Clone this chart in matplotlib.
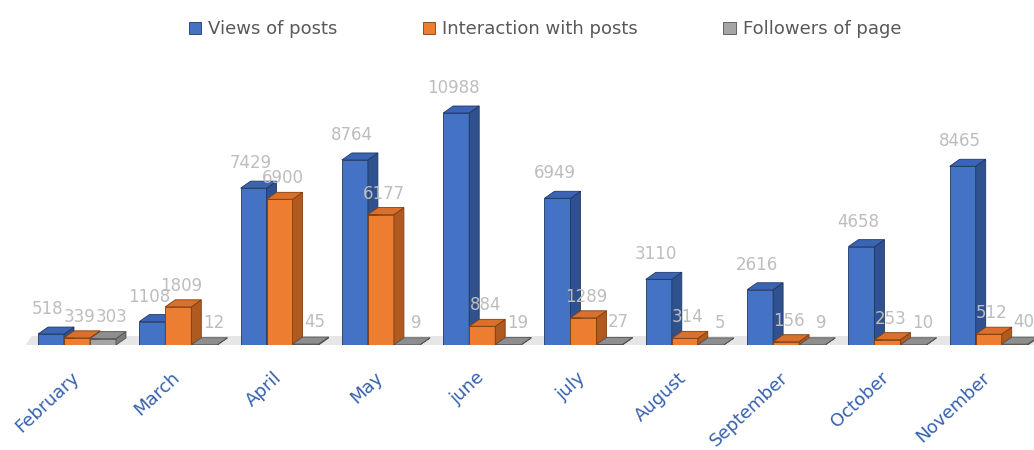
import matplotlib
matplotlib.use('Agg')
import matplotlib.pyplot as plt
from matplotlib.patches import Polygon, Patch
import numpy as np

# chart data
months = ['February', 'March', 'April', 'May', 'june', 'july',
          'August', 'September', 'October', 'November']
views = [518, 1108, 7429, 8764, 10988, 6949, 3110, 2616, 4658, 8465]
interactions = [339, 1809, 6900, 6177, 884, 1289, 314, 156, 253, 512]
followers = [303, 12, 45, 9, 19, 27, 5, 9, 10, 40]

series_names = ['Views of posts', 'Interaction with posts', 'Followers of page']
front_cols = ['#4472c4', '#ed7d31', '#a5a5a5']
side_cols = ['#2f528f', '#ae5a21', '#7b7b7b']
top_cols = ['#3b65b4', '#d9702b', '#8e8e8e']
edge_cols = ['#203864', '#843c0c', '#525252']
# value label offsets in px (right, up) per series
label_dx = [-3, 3, 9]
label_dy = [25, 21, 22]

fig = plt.figure(figsize=(10.34, 4.5), dpi=100)
ax = fig.add_axes([0, 105 / 450, 1, 345 / 450])

group_px = 101.3
first_px = 77
x = np.arange(len(months))
ax.set_xlim(-first_px / group_px, (1034 - first_px) / group_px)
ax.set_ylim(0, 345 * 10988 / 232)

# pixel -> data unit conversions for the fake 3d depth
ux = (ax.get_xlim()[1] - ax.get_xlim()[0]) / ax.bbox.width
uy = (ax.get_ylim()[1] - ax.get_ylim()[0]) / ax.bbox.height
dx = 10 * ux
dy = 7 * uy
w = 26 * ux

# floor band
xl = x[0] - 1.5 * w - 16 * ux
xr = x[-1] + 1.5 * w + 14 * ux
floor = Polygon([(xl, -5 * uy), (xr, -5 * uy), (xr + dx, dy + 2 * uy), (xl + dx, dy + 2 * uy)],
                closed=True, facecolor='#e6e6e6', edgecolor='none', zorder=0)
ax.add_patch(floor)

z = 1
for i in range(len(months)):
    for s, vals in enumerate([views, interactions, followers]):
        h = vals[i]
        left = x[i] + (s - 1) * w - w / 2
        right = left + w
        ec = edge_cols[s]
        ax.bar(left, h, width=w, align='edge', color=front_cols[s],
               edgecolor=ec, linewidth=0.6, zorder=z)
        side = Polygon([(right, 0), (right + dx, dy), (right + dx, h + dy), (right, h)],
                       closed=True, facecolor=side_cols[s], edgecolor=ec, linewidth=0.6, zorder=z)
        top = Polygon([(left, h), (left + dx, h + dy), (right + dx, h + dy), (right, h)],
                      closed=True, facecolor=top_cols[s], edgecolor=ec, linewidth=0.6, zorder=z)
        ax.add_patch(side)
        ax.add_patch(top)
        z += 1
        ax.annotate(str(h), xy=(left + w / 2, h),
                    xytext=(label_dx[s] * 0.72, label_dy[s] * 0.72),
                    textcoords='offset points', ha='center', va='center',
                    fontsize=12, color='#bdbdbd', zorder=100)

ax.set_xticks(x - 7 * ux)
ax.set_xticklabels(months, rotation=43, ha='right', va='top', rotation_mode='anchor',
                   fontsize=13, color='#3661ad')
ax.tick_params(axis='x', length=0, pad=17)
ax.set_yticks([])
for sp in ax.spines.values():
    sp.set_visible(False)
ax.patch.set_alpha(0)

handles = [Patch(facecolor=front_cols[s], edgecolor=edge_cols[s], linewidth=0.6)
           for s in range(3)]
fig.legend(handles, series_names, loc='upper center', bbox_to_anchor=(545 / 1034, 1 - 4 / 450),
           ncol=3, frameon=False, fontsize=13, labelcolor='#595959',
           handlelength=0.7, handleheight=0.7, handletextpad=0.4, columnspacing=4.7)

fig.savefig('out.png', dpi=100)
